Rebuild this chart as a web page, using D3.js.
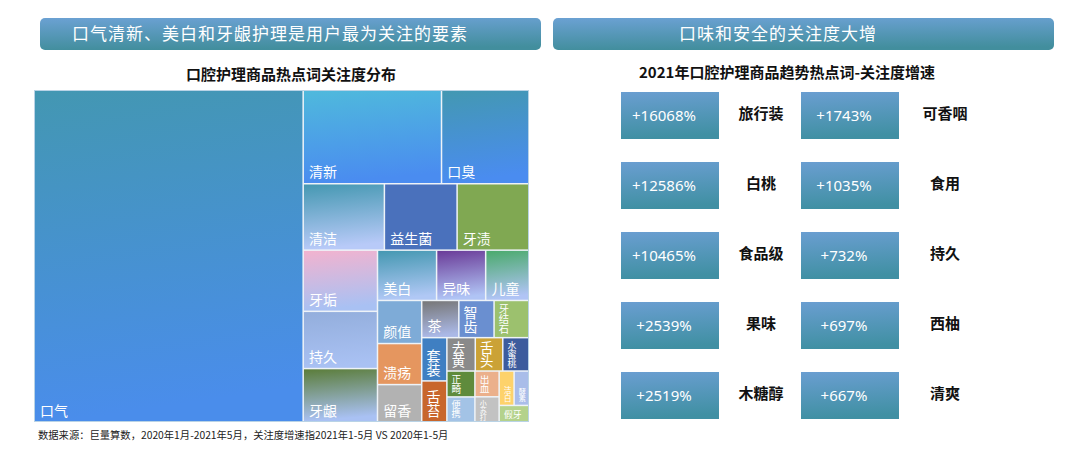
<!DOCTYPE html>
<html><head><meta charset="utf-8">
<script src="https://cdn.jsdelivr.net/npm/d3@7"></script>
<style>
html,body{margin:0;padding:0;background:#fff;}
svg{display:block;font-family:"Noto Sans CJK SC","Noto Sans",sans-serif;}
</style></head>
<body>
<svg id="c" width="1080" height="457"></svg>
<script>
// ---------- data ----------
const headerTexts = ["口气清新、美白和牙龈护理是用户最为关注的要素", "口味和安全的关注度大增"];
const subTitles = ["口腔护理商品热点词关注度分布", "2021年口腔护理商品趋势热点词-关注度增速"];
const footNote = "数据来源：巨量算数，2020年1月-2021年5月，关注度增速指2021年1-5月 VS 2020年1-5月";

// treemap: keyword and relative attention
const tmNames = ["口气","清新","口臭","清洁","益生菌","牙渍","牙垢","持久","牙龈","美白","异味","儿童",
  "颜值","溃疡","留香","茶","智齿","牙结石","套装","舌苔","去黄","舌头","水蜜桃","正畸","便携",
  "出血","小苏打","洁白","酵素","假牙"];
const tmValues = [8844,1283,809,535,479,472,451,422,392,295,245,215,
  189,180,163,137,130,128,108,102,94,91,86,72,69,
  62,60,51,50,48];
// how many cells each squarified strip holds (layout of the reference)
const tmStrips = [1,2,3,3,3,3,3,2,3,2,2,2,1];
const tmTop = ["#4397b2","#4fb9dc","#4398b2","#4598b2","#4a71bc","#80a852","#f2b3cf","#93aedc","#5b7d3a","#4598b2","#6a3b98","#4aaa6c",
  "#7eabd7","#e5965f","#b2b2b2","#777777","#6a8fd0","#9cc16e","#3f7fc2","#c8662c","#8a8a8a","#cba236","#3d5c9d","#5f8b3c","#a3c3e6",
  "#ebb08b","#c2c2c2","#fdd26b","#a9bde9","#b4d28c"];
const tmBottom = ["#4a8deb","#4a8cf0","#4a8cf0","#b8caf8","#4a71bc","#80a852","#a9c1f3","#a9c1f3","#a9c1f3","#b0c8f5","#b0c4f5","#b0c4f5",
  "#7eabd7","#e5965f","#b2b2b2","#aab8e6","#6a8fd0","#9cc16e","#3f7fc2","#c8662c","#8a8a8a","#cba236","#3d5c9d","#5f8b3c","#a3c3e6",
  "#ebb08b","#c2c2c2","#fdd26b","#a9bde9","#b4d28c"];

// growth panel
const growthNamesL = ["旅行装","白桃","食品级","果味","木糖醇"];
const growthRatesL = [16068,12586,10465,2539,2519];
const growthNamesR = ["可香咽","食用","持久","西柚","清爽"];
const growthRatesR = [1743,1035,732,697,667];

// ---------- drawing ----------
const svg = d3.select("#c");
const defs = svg.append("defs");

function vGrad(id, c0, c1) {
  const g = defs.append("linearGradient").attr("id", id)
    .attr("x1", 0).attr("y1", 0).attr("x2", 0.12).attr("y2", 1);
  g.append("stop").attr("offset", "0%").attr("stop-color", c0);
  g.append("stop").attr("offset", "100%").attr("stop-color", c1);
}
vGrad("hdr", "#6ba1d3", "#428e9d");
vGrad("box", "#6a9ed1", "#4090a3");

// header bars
const hdrX = d3.scaleOrdinal().domain([0,1]).range([40, 553]);
const hdrTextX = [270, 778];
headerTexts.forEach((t, i) => {
  svg.append("rect").attr("x", hdrX(i)).attr("y", 18).attr("width", 501).attr("height", 32)
    .attr("rx", 5).attr("fill", "url(#hdr)");
  svg.append("text").attr("x", hdrTextX[i]).attr("y", 40).attr("text-anchor", "middle")
    .attr("fill", "#fff").attr("font-size", 17).attr("letter-spacing", 1).text(t);
});
// subtitles
const subX = [291, 787], subY = [80, 78];
subTitles.forEach((t, i) => {
  svg.append("text").attr("x", subX[i]).attr("y", subY[i]).attr("text-anchor", "middle")
    .attr("fill", "#111").attr("font-size", 15).attr("font-weight", "bold").text(t);
});

// ---------- treemap ----------
const tm = {x0: 35, y0: 91, x1: 528, y1: 421};
function stripTile(node, x0, y0, x1, y1) {
  const kids = node.children;
  let value = node.value, i = 0;
  for (const n of tmStrips) {
    const ch = kids.slice(i, i + n);
    if (!ch.length) break;
    const row = {children: ch, value: d3.sum(ch, d => d.value)};
    const dx = x1 - x0, dy = y1 - y0;
    if (dx < dy) {
      const y = y0 + dy * row.value / value;
      d3.treemapDice(row, x0, y0, x1, y); y0 = y;
    } else {
      const x = x0 + dx * row.value / value;
      d3.treemapSlice(row, x0, y0, x, y1); x0 = x;
    }
    value -= row.value; i += n;
  }
}
const rootData = {children: tmNames.map((n, i) => ({name: n, value: tmValues[i], idx: i}))};
const root = d3.hierarchy(rootData).sum(d => d.value || 0);
d3.treemap().tile(stripTile).size([tm.x1 - tm.x0, tm.y1 - tm.y0]).paddingInner(1.5)(root);

const gT = svg.append("g").attr("transform", `translate(${tm.x0},${tm.y0})`);
gT.append("rect").attr("x", -0.5).attr("y", -0.5).attr("width", tm.x1 - tm.x0 + 1).attr("height", tm.y1 - tm.y0 + 1)
  .attr("fill", "#eef3f8").attr("stroke", "#b9d3e6").attr("stroke-width", 1);
root.leaves().forEach(l => vGrad("tg" + l.data.idx, tmTop[l.data.idx], tmBottom[l.data.idx]));
gT.selectAll("rect.cell").data(root.leaves()).join("rect").attr("class", "cell")
  .attr("x", d => d.x0).attr("y", d => d.y0)
  .attr("width", d => d.x1 - d.x0).attr("height", d => d.y1 - d.y0)
  .attr("fill", d => `url(#tg${d.data.idx})`);

// labels: bottom-left; narrow cells get a vertical label, shrunk only when it cannot fit
root.leaves().forEach(d => {
  const w = d.x1 - d.x0, h = d.y1 - d.y0;
  const n = Array.from(d.data.name).length;
  const fh = Math.min(14, (w - 9) / n, h - 6);
  const fv = Math.min(14, w - 6, (h - 5) / n);
  const t = gT.append("text").attr("fill", "#fff").text(d.data.name);
  if (fh >= 14 || fh > fv) {
    const f = Math.max(7, fh);
    t.attr("font-size", f).attr("x", d.x0 + (f < 14 ? 4 : 5)).attr("y", d.y1 - (f < 14 ? 3 : 5.5));
  } else {
    const f = Math.max(7, fv);
    const top = Math.max(d.y0 + 2.5, d.y1 - 3 - n * f);
    t.attr("font-size", f).attr("writing-mode", "tb").style("writing-mode", "vertical-rl")
      .attr("x", d.x0 + 4 + f / 2).attr("y", top);
  }
});

svg.append("text").attr("x", 38).attr("y", 439).attr("font-size", 10.3).attr("fill", "#222").text(footNote);

// ---------- growth panel ----------
const rowY = d3.scaleBand().domain(d3.range(5)).range([92, 419]).paddingInner(23 / 70);
const colX = d3.scaleOrdinal().domain([0, 1]).range([621, 801]);
const lblX = d3.scaleOrdinal().domain([0, 1]).range([761, 945]);
const cols = [[growthNamesL, growthRatesL], [growthNamesR, growthRatesR]];
const fmt = v => "+" + v + "%";
cols.forEach(([names, rates], c) => {
  rates.forEach((v, r) => {
    const y = rowY(r), bw = 98, bh = rowY.bandwidth();
    svg.append("rect").attr("x", colX(c)).attr("y", y).attr("width", bw).attr("height", bh)
      .attr("fill", "url(#box)");
    svg.append("text").attr("x", colX(c) + bw / 2 - 6).attr("y", y + bh / 2 + 5.5)
      .attr("text-anchor", "middle").attr("fill", "#fff").attr("font-size", 15)
      .attr("font-family", "'Noto Sans',sans-serif").text(fmt(v));
    svg.append("text").attr("x", lblX(c)).attr("y", y + bh / 2 + 3)
      .attr("text-anchor", "middle").attr("fill", "#111").attr("font-size", 15)
      .attr("font-weight", "bold").text(names[r]);
  });
});
</script>
</body></html>
